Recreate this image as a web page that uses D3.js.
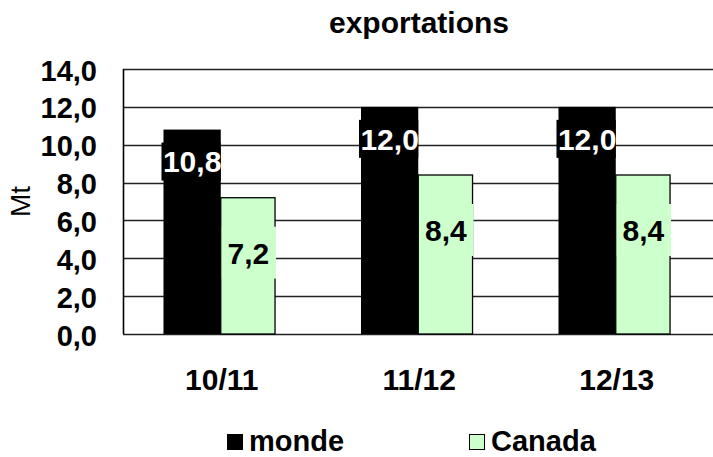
<!DOCTYPE html>
<html>
<head>
<meta charset="utf-8">
<script src="https://cdn.jsdelivr.net/npm/d3@7"></script>
<style>
html,body{margin:0;padding:0;background:#fff;}
svg{display:block;}
text{font-family:"Liberation Sans",Arial,sans-serif;}
</style>
</head>
<body>
<svg id="chart" width="713" height="457"></svg>
<script>
const categories = ["10/11", "11/12", "12/13"];
const seriesNames = ["monde", "Canada"];
const monde = [10.8, 12.0, 12.0];
const canada = [7.2, 8.4, 8.4];
const yTicks = [0, 2, 4, 6, 8, 10, 12, 14];
const title = "exportations";
const yTitle = "Mt";

const colors = {monde: "#000000", Canada: "#CCFFCC"};
const fmt = v => d3.format(".1f")(v).replace(".", ",");

const svg = d3.select("#chart");
const pLeft = 123, pTop = 69, pBottom = 334, pRight = 715.5;

const x0 = d3.scaleBand().domain(categories).range([pLeft, pRight]).paddingInner(0).paddingOuter(0);
const step = x0.step();
const x1 = d3.scaleBand().domain(seriesNames).range([step * 0.205, step * 0.785]).padding(0);
const y = d3.scaleLinear().domain([0, 14]).range([pBottom, pTop]);

// gridlines
svg.append("g").selectAll("line").data(yTicks).join("line")
  .attr("x1", pLeft).attr("x2", 713)
  .attr("y1", d => Math.round(y(d)) + 0.5).attr("y2", d => Math.round(y(d)) + 0.5)
  .attr("stroke", "#222").attr("stroke-width", 1.6);

// y axis line
svg.append("line").attr("x1", pLeft + 0.5).attr("x2", pLeft + 0.5)
  .attr("y1", y(14)).attr("y2", y(0)).attr("stroke", "#000").attr("stroke-width", 1.6);

// y tick labels
const yAxis = d3.axisLeft(y).tickValues(yTicks).tickFormat(fmt).tickSize(0).tickPadding(26);
const ga = svg.append("g").attr("transform", `translate(${pLeft},0)`).call(yAxis);
ga.select(".domain").remove();
ga.selectAll("text").attr("font-size", 29).attr("font-weight", "bold")
  .attr("font-family", "Liberation Sans, Arial, sans-serif").attr("fill", "#000").attr("dy", "0.38em");

// bars
const rows = categories.map((c, i) => ({cat: c, vals: [{s: "monde", v: monde[i]}, {s: "Canada", v: canada[i]}]}));
const groups = svg.append("g").selectAll("g").data(rows).join("g")
  .attr("transform", d => `translate(${x0(d.cat)},0)`);
groups.selectAll("rect.bar").data(d => d.vals).join("rect").attr("class", "bar")
  .attr("x", d => x1(d.s)).attr("width", d => x1.bandwidth() - (d.s === "Canada" ? 3 : 0))
  .attr("y", d => y(d.v)).attr("height", d => y(0) - y(d.v))
  .attr("fill", d => colors[d.s])
  .attr("stroke", d => d.s === "Canada" ? "#000" : "none").attr("stroke-width", 1.3);

// value labels
const offs = {monde: 32, Canada: 55};
const lab = groups.selectAll("g.lab").data(d => d.vals).join("g").attr("class", "lab");
lab.append("rect")
  .attr("x", d => d.s === "Canada" ? x1(d.s) + 1 : x1(d.s) - 2)
  .attr("width", d => d.s === "Canada" ? x1.bandwidth() - 3 : x1.bandwidth() + 2)
  .attr("y", d => y(d.v) + offs[d.s] - (d.s === "Canada" ? 26 : 19))
  .attr("height", d => d.s === "Canada" ? 52 : 38)
  .attr("fill", d => colors[d.s]);
lab.append("text")
  .attr("x", d => x1(d.s) + x1.bandwidth() / 2 - (d.s === "Canada" ? 1 : 0))
  .attr("y", d => y(d.v) + offs[d.s]).attr("dy", "0.36em")
  .attr("text-anchor", "middle").attr("font-size", 30).attr("font-weight", "bold")
  .attr("fill", d => d.s === "Canada" ? "#000" : "#fff")
  .text(d => fmt(d.v));

// category labels
svg.append("g").selectAll("text").data(categories).join("text")
  .attr("x", d => x0(d) + step / 2).attr("y", 390)
  .attr("text-anchor", "middle").attr("font-size", 30).attr("font-weight", "bold")
  .text(d => d);

// title
svg.append("text").attr("x", 419).attr("y", 33).attr("text-anchor", "middle")
  .attr("font-size", 30).attr("font-weight", "bold").text(title);

// y title
svg.append("text").attr("transform", `translate(30,${(y(14)+y(0))/2}) rotate(-90)`)
  .attr("text-anchor", "middle").attr("font-size", 28).text(yTitle);

// legend
const legX = [227, 469];
const leg = svg.append("g").selectAll("g").data(seriesNames).join("g")
  .attr("transform", (d, i) => `translate(${legX[i]},434)`);
leg.append("rect").attr("x", 0.5).attr("y", 0.5).attr("width", 15).attr("height", 15)
  .attr("fill", d => colors[d]).attr("stroke", "#000").attr("stroke-width", 1);
leg.append("text").attr("x", 22).attr("y", 17).attr("font-size", 29).attr("font-weight", "bold")
  .text(d => d);
</script>
</body>
</html>
